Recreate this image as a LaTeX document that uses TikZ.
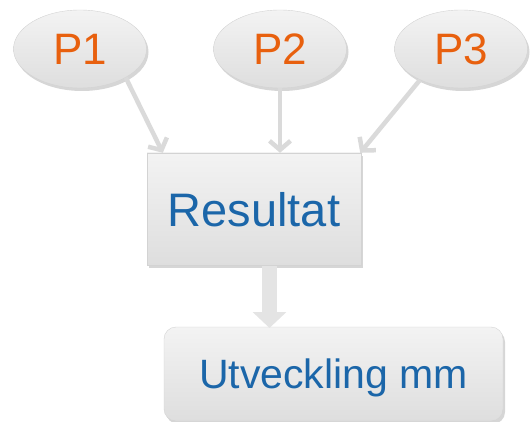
\documentclass[tikz,border=0pt]{standalone}
\usepackage{fontspec}
\setmainfont{Liberation Sans}
\usepackage{xcolor}
\usetikzlibrary{shapes.geometric}
\usetikzlibrary{arrows.meta}
\usetikzlibrary{shadows}
\definecolor{porange}{HTML}{E8600E}
\definecolor{rblue}{HTML}{1B66A9}
\definecolor{boxline}{HTML}{D3D3D3}
\definecolor{boxtop}{HTML}{F3F3F3}
\definecolor{boxbot}{HTML}{DEDEDE}
\definecolor{arrgray}{HTML}{DADADA}
\definecolor{bigarrgray}{HTML}{E4E4E4}
\tikzset{
	softshadow/.style={drop shadow={shadow xshift=2pt,shadow yshift=-3pt,opacity=0.16,fill=black}},
	pnode/.style={ellipse,draw=boxline,top color=boxtop,bottom color=boxbot,softshadow,
		minimum width=133pt,minimum height=78pt,inner sep=0pt,text=porange,
		font=\fontsize{44}{53}\selectfont,text height=32pt,text depth=0pt},
	resbox/.style={rectangle,draw=boxline,top color=boxtop,bottom color=boxbot,softshadow,
		minimum width=214pt,minimum height=112pt,inner sep=0pt,text=rblue,
		font=\fontsize{47}{56}\selectfont,text height=34pt,text depth=0pt},
	utvbox/.style={rectangle,rounded corners=12pt,draw=boxline,top color=boxtop,bottom color=boxbot,softshadow,
		minimum width=339pt,minimum height=94pt,inner sep=0pt,text=rblue,
		font=\fontsize{41}{49}\selectfont,text height=29pt,text depth=0pt},
	thinarr/.style={draw=arrgray,line width=4.5pt,-{Straight Barb[length=9pt,width=21pt]}},
	bigarr/.style={draw=bigarrgray,line width=15pt,-{Triangle[length=16pt,width=33pt]}}
}

\begin{document}
\begin{tikzpicture}[x=1pt,y=-1pt]
	\useasboundingbox (0,0) rectangle (530,422);
	\node[pnode] (p1) at (80,49) {P1};
	\node[pnode] (p2) at (280,49) {P2};
	\node[pnode] (p3) at (461,49) {P3};
	\node[resbox] (res) at (254,209) {Resultat};
	\node[utvbox] (utv) at (333.5,374) {Utveckling mm};
	\draw[thinarr] (p1.-32) -- ([xshift=16pt]res.north west);
	\draw[thinarr] (p2.south) -- (p2.south |- res.north);
	\draw[thinarr] (p3.-143) -- ([xshift=-1pt]res.north east);
	\coordinate (abeg) at (269.5,266);
	\coordinate (aend) at (269.5,328);
	\draw[bigarr] (abeg) -- (aend);
\end{tikzpicture}
\end{document}
